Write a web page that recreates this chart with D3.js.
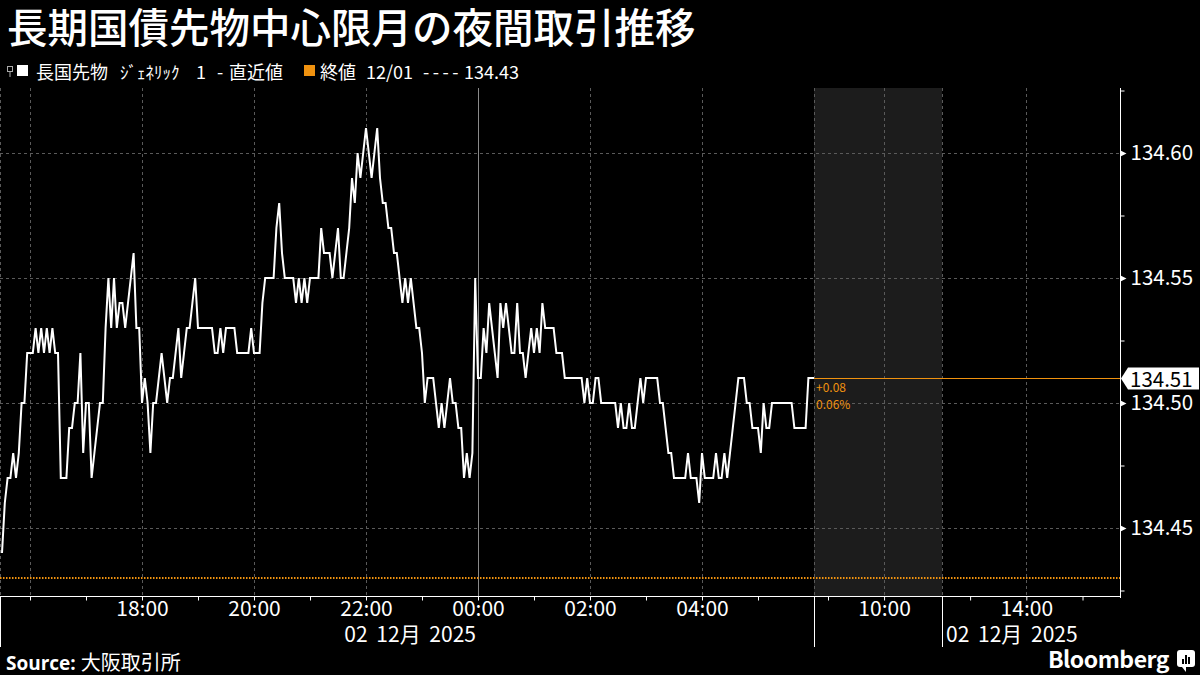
<!DOCTYPE html>
<html>
<head>
<meta charset="utf-8">
<script src="https://cdn.jsdelivr.net/npm/d3@7"></script>
<style>
body { margin: 0; background: #000; }
text { font-family: "Noto Sans CJK JP", "Noto Sans", sans-serif; }
</style>
</head>
<body>
<div id="chart"></div>
<script>
// chart data
var titleText = "長期国債先物中心限月の夜間取引推移";
var legendSeries = ["長国先物", "ｼﾞｪﾈﾘｯｸ", "1", "-", "直近値"];
var legendClose = ["終値", "12/01", "----", "134.43"];
var sourceText = "大阪取引所";

var startTime = "2025-12-01T15:30";
var stepMinutes = 3;
// one price every 3 minutes, 15:30 -> 06:00
var prices = [
  134.44, 134.46, 134.47, 134.47, 134.48, 134.47, 134.48, 134.50, 134.50, 134.52,
  134.52, 134.52, 134.53, 134.52, 134.53, 134.52, 134.53, 134.52, 134.53, 134.52,
  134.52, 134.47, 134.47, 134.47, 134.49, 134.49, 134.50, 134.50, 134.52, 134.48,
  134.50, 134.50, 134.47, 134.48, 134.49, 134.50, 134.50, 134.53, 134.55, 134.53,
  134.55, 134.53, 134.54, 134.54, 134.53, 134.54, 134.55, 134.56, 134.53, 134.53,
  134.50, 134.51, 134.50, 134.48, 134.50, 134.50, 134.51, 134.52, 134.51, 134.50,
  134.51, 134.51, 134.52, 134.53, 134.51, 134.52, 134.53, 134.53, 134.54, 134.55,
  134.53, 134.53, 134.53, 134.53, 134.53, 134.53, 134.52, 134.52, 134.53, 134.52,
  134.53, 134.53, 134.53, 134.53, 134.52, 134.52, 134.52, 134.52, 134.52, 134.53,
  134.52, 134.52, 134.52, 134.54, 134.55, 134.55, 134.55, 134.55, 134.57, 134.58,
  134.56, 134.55, 134.55, 134.55, 134.55, 134.54, 134.55, 134.54, 134.55, 134.54,
  134.55, 134.55, 134.55, 134.55, 134.57, 134.56, 134.56, 134.56, 134.55, 134.56,
  134.57, 134.55, 134.55, 134.56, 134.57, 134.59, 134.58, 134.60, 134.59, 134.60,
  134.61, 134.60, 134.59, 134.60, 134.61, 134.59, 134.58, 134.58, 134.57, 134.57,
  134.56, 134.56, 134.55, 134.54, 134.55, 134.54, 134.55, 134.54, 134.53, 134.53,
  134.52, 134.50, 134.51, 134.51, 134.51, 134.50, 134.49, 134.50, 134.49, 134.50,
  134.51, 134.50, 134.50, 134.49, 134.49, 134.47, 134.48, 134.47, 134.48, 134.55,
  134.51, 134.51, 134.53, 134.52, 134.54, 134.53, 134.52, 134.51, 134.54, 134.53,
  134.54, 134.53, 134.52, 134.52, 134.54, 134.52, 134.52, 134.51, 134.52, 134.53,
  134.52, 134.53, 134.52, 134.54, 134.53, 134.53, 134.53, 134.53, 134.52, 134.52,
  134.52, 134.51, 134.51, 134.51, 134.51, 134.51, 134.51, 134.51, 134.50, 134.51,
  134.50, 134.50, 134.51, 134.51, 134.50, 134.50, 134.50, 134.50, 134.50, 134.50,
  134.49, 134.50, 134.49, 134.49, 134.50, 134.49, 134.49, 134.50, 134.51, 134.50,
  134.51, 134.51, 134.51, 134.51, 134.51, 134.50, 134.50, 134.49, 134.48, 134.48,
  134.47, 134.47, 134.47, 134.47, 134.47, 134.48, 134.47, 134.47, 134.47, 134.46,
  134.48, 134.47, 134.47, 134.47, 134.47, 134.48, 134.47, 134.47, 134.48, 134.47,
  134.48, 134.49, 134.50, 134.51, 134.51, 134.51, 134.50, 134.50, 134.49, 134.49,
  134.49, 134.48, 134.50, 134.49, 134.49, 134.50, 134.50, 134.50, 134.50, 134.50,
  134.50, 134.50, 134.50, 134.49, 134.49, 134.49, 134.49, 134.49, 134.51, 134.51,
  134.51
];
var prevClose = 134.43;

// sessions: night 15:30-06:00, morning 08:45-11:02, afternoon 12:30-
var sessionBounds = ["2025-12-01T15:30", "2025-12-02T06:00", "2025-12-02T08:45",
                     "2025-12-02T11:02", "2025-12-02T12:30", "2025-12-02T15:40"];
var yTicks = [134.45, 134.50, 134.55, 134.60];
var yMinorTicks = [134.425, 134.475, 134.525, 134.575, 134.625];
var hourTicks = ["2025-12-01T16:00", "2025-12-01T17:00", "2025-12-01T18:00", "2025-12-01T19:00",
  "2025-12-01T20:00", "2025-12-01T21:00", "2025-12-01T22:00", "2025-12-01T23:00",
  "2025-12-02T00:00", "2025-12-02T01:00", "2025-12-02T02:00", "2025-12-02T03:00",
  "2025-12-02T04:00", "2025-12-02T05:00", "2025-12-02T09:00", "2025-12-02T10:00",
  "2025-12-02T13:00", "2025-12-02T14:00", "2025-12-02T15:00"];
var labelTicks = ["2025-12-01T18:00", "2025-12-01T20:00", "2025-12-01T22:00", "2025-12-02T00:00",
  "2025-12-02T02:00", "2025-12-02T04:00", "2025-12-02T10:00", "2025-12-02T14:00"];
var gridTimes = ["2025-12-01T16:00", "2025-12-01T18:00", "2025-12-01T20:00", "2025-12-01T22:00",
  "2025-12-02T02:00", "2025-12-02T04:00", "2025-12-02T06:00", "2025-12-02T10:00",
  "2025-12-02T11:02", "2025-12-02T14:00"];
var dateLabel = "02 12月 2025";

var svgWidth = 1200;
var svgHeight = 675;
var plot = { left: 2, right: 1120, top: 88, bottom: 596 };
var orange = "#f0920f";

var parse = d3.timeParse("%Y-%m-%dT%H:%M");
var t0 = parse(startTime);
var data = prices.map(function (p, i) {
  return { date: d3.timeMinute.offset(t0, i * stepMinutes), value: p };
});

var svg = d3.select("#chart").append("svg")
  .attr("width", svgWidth)
  .attr("height", svgHeight)
  .style("background", "#000");

// piecewise time scale, closed hours squeezed out
var b = sessionBounds.map(parse);
var x = d3.scaleTime()
  .domain(b)
  .range([plot.left, 814, 814, 942, 942, plot.right]);

var y = d3.scaleLinear()
  .domain([134.4228, 134.626])
  .range([plot.bottom, plot.top]);

// title
svg.append("text")
  .attr("x", 7).attr("y", 43)
  .attr("fill", "#fff")
  .attr("font-size", 40.5)
  .attr("font-weight", 500)
  .text(titleText);

// legend
var lg = svg.append("g").attr("font-size", 18).attr("fill", "#fff");
lg.append("rect").attr("x", 7.5).attr("y", 66.5).attr("width", 5).attr("height", 5)
  .attr("fill", "none").attr("stroke", "#aaa").attr("stroke-width", 1);
lg.append("line").attr("x1", 10).attr("x2", 10).attr("y1", 72).attr("y2", 77)
  .attr("stroke", "#aaa");
lg.append("rect").attr("x", 17).attr("y", 65).attr("width", 11).attr("height", 11).attr("fill", "#fff");
var seriesX = [36, 120, 196, 217, 229];
legendSeries.forEach(function (s, i) {
  lg.append("text").attr("x", seriesX[i]).attr("y", 79)
    .attr("font-size", i === 1 ? 17 : 18)
    .text(s);
});
lg.append("rect").attr("x", 304).attr("y", 65).attr("width", 11).attr("height", 11).attr("fill", orange);
var closeX = [320, 366, 423, 464];
legendClose.forEach(function (s, i) {
  lg.append("text").attr("x", closeX[i]).attr("y", 79)
    .attr("font-family", i === 0 ? null : "Noto Sans, sans-serif")
    .attr("letter-spacing", i === 2 ? 3.5 : null)
    .text(s);
});

// closed-session shading (morning session still to come)
svg.append("rect")
  .attr("x", x(b[2])).attr("y", plot.top)
  .attr("width", x(b[3]) - x(b[2]))
  .attr("height", plot.bottom - plot.top)
  .attr("fill", "#1c1c1c");

// grid
var grid = svg.append("g").attr("stroke", "#5a5a5a").attr("stroke-dasharray", "3,3").attr("stroke-width", 1);
yTicks.forEach(function (v) {
  grid.append("line")
    .attr("x1", 0).attr("x2", plot.right)
    .attr("y1", Math.round(y(v)) + 0.5).attr("y2", Math.round(y(v)) + 0.5);
});
gridTimes.map(parse).concat([b[0]]).forEach(function (t) {
  var xx = Math.round(x(t)) + 0.5;
  if (t === b[0]) xx = 0.5;
  grid.append("line")
    .attr("x1", xx).attr("x2", xx)
    .attr("y1", plot.top).attr("y2", plot.bottom);
});
// day change at midnight
svg.append("line")
  .attr("x1", Math.round(x(parse("2025-12-02T00:00"))) + 0.5)
  .attr("x2", Math.round(x(parse("2025-12-02T00:00"))) + 0.5)
  .attr("y1", plot.top).attr("y2", plot.bottom)
  .attr("stroke", "#8a8a8a").attr("stroke-width", 1);

// previous close, dotted
svg.append("line")
  .attr("x1", 0).attr("x2", plot.right)
  .attr("y1", y(prevClose)).attr("y2", y(prevClose))
  .attr("stroke", orange).attr("stroke-width", 2)
  .attr("stroke-dasharray", "1.5,1.5");

// last value line
var last = data[data.length - 1];
svg.append("line")
  .attr("x1", x(last.date)).attr("x2", plot.right)
  .attr("y1", Math.round(y(last.value)) + 0.5).attr("y2", Math.round(y(last.value)) + 0.5)
  .attr("stroke", orange).attr("stroke-width", 1);

// price line
var line = d3.line()
  .x(function (d) { return x(d.date); })
  .y(function (d) { return y(d.value); });

svg.append("path")
  .datum(data)
  .attr("d", line)
  .attr("fill", "none")
  .attr("stroke", "#fff")
  .attr("stroke-width", 2)
  .attr("stroke-linejoin", "miter");

// change from previous close
var chg = last.value - prevClose;
svg.append("text")
  .attr("x", x(last.date) + 2).attr("y", y(last.value) + 14)
  .attr("fill", orange).attr("font-size", 12)
  .attr("font-family", "Liberation Sans, sans-serif")
  .text((chg >= 0 ? "+" : "") + chg.toFixed(2));
svg.append("text")
  .attr("x", x(last.date) + 2).attr("y", y(last.value) + 31)
  .attr("fill", orange).attr("font-size", 12)
  .attr("font-family", "Liberation Sans, sans-serif")
  .text((chg / prevClose * 100).toFixed(2) + "%");

// right axis
var rightAxis = d3.axisRight(y)
  .tickValues(yTicks)
  .tickSize(0)
  .tickPadding(10)
  .tickFormat(d3.format(".2f"));
var yAxisG = svg.append("g")
  .attr("transform", "translate(" + (plot.right + 0.5) + ",0)")
  .call(rightAxis);
yAxisG.select(".domain").attr("stroke", "#fff").attr("d", "M0," + (plot.top) + "V" + (plot.bottom + 2));
yAxisG.selectAll(".tick text")
  .attr("fill", "#fff")
  .attr("font-size", 20.5)
  .attr("font-family", "Noto Sans, sans-serif");
yAxisG.selectAll(".tick").append("path")
  .attr("d", "M0,-3L6,0L0,3Z")
  .attr("fill", "#fff");

var minorAxis = d3.axisRight(y).tickValues(yMinorTicks).tickSize(4).tickFormat("");
var minorG = svg.append("g")
  .attr("transform", "translate(" + (plot.right + 0.5) + ",0)")
  .call(minorAxis);
minorG.select(".domain").remove();
minorG.selectAll(".tick line").attr("stroke", "#fff");

// value label on the axis
var ly = Math.round(y(last.value)) + 0.5;
svg.append("path")
  .attr("d", "M" + (plot.right + 1) + "," + ly + "L1128," + (ly - 11) + "H1199V" + (ly + 11) + "H1128Z")
  .attr("fill", "#fff");
svg.append("text")
  .attr("x", 1130).attr("y", ly + 8)
  .attr("fill", "#000")
  .attr("font-size", 20.5)
  .attr("font-family", "Noto Sans, sans-serif")
  .text(last.value.toFixed(2));

// bottom axis
var labelSet = labelTicks.map(function (s) { return +parse(s); });
var bottomAxis = d3.axisBottom(x)
  .tickValues(hourTicks.map(parse))
  .tickSize(4)
  .tickPadding(1)
  .tickFormat(function (d) {
    return labelSet.indexOf(+d) >= 0 ? d3.timeFormat("%H:%M")(d) : "";
  });
var xAxisG = svg.append("g")
  .attr("transform", "translate(0," + (plot.bottom + 0.5) + ")")
  .call(bottomAxis);
xAxisG.select(".domain").attr("stroke", "#fff").attr("d", "M0,0H" + (plot.right + 1));
xAxisG.selectAll(".tick line").attr("stroke", "#fff");
xAxisG.selectAll(".tick text")
  .attr("fill", "#fff")
  .attr("font-size", 21)
  .attr("font-family", "Noto Sans, sans-serif");

// session separators under the axis
[0.5, Math.round(x(b[1])) + 0.5, Math.round(x(b[3])) + 0.5].forEach(function (xx) {
  svg.append("line")
    .attr("x1", xx).attr("x2", xx)
    .attr("y1", plot.bottom).attr("y2", 647)
    .attr("stroke", "#fff").attr("stroke-width", 1);
});

svg.append("text")
  .attr("x", x(parse("2025-12-02T00:00")) - 2).attr("y", 642)
  .attr("text-anchor", "end")
  .attr("fill", "#fff").attr("font-size", 21)
  .attr("word-spacing", 4)
  .text(dateLabel);
svg.append("text")
  .attr("x", x(b[3]) + 4).attr("y", 642)
  .attr("fill", "#fff").attr("font-size", 21)
  .attr("word-spacing", 4)
  .text(dateLabel);

// footer
var src = svg.append("text")
  .attr("x", 6).attr("y", 670)
  .attr("fill", "#fff").attr("font-size", 19);
src.append("tspan").attr("font-weight", "bold").attr("font-family", "Open Sans, sans-serif").text("Source: ");
src.append("tspan").attr("font-size", 20).text(sourceText);

svg.append("text")
  .attr("x", 1169).attr("y", 668)
  .attr("text-anchor", "end")
  .attr("fill", "#fff").attr("font-size", 23).attr("font-weight", "bold")
  .attr("font-family", "Open Sans, sans-serif")
  .attr("letter-spacing", -0.5)
  .text("Bloomberg");
var logo = svg.append("g").attr("transform", "translate(1177,650)");
logo.append("rect").attr("width", 18).attr("height", 17).attr("rx", 3).attr("fill", "#fff");
logo.append("path").attr("d", "M5,17L9,22L9,17Z").attr("fill", "#fff");
[[5, 9, 2], [8, 5, 2], [11, 7, 2]].forEach(function (r) {
  logo.append("rect").attr("x", r[0]).attr("y", r[1]).attr("width", r[2]).attr("height", 14 - r[1]).attr("fill", "#000");
});
</script>
</body>
</html>
